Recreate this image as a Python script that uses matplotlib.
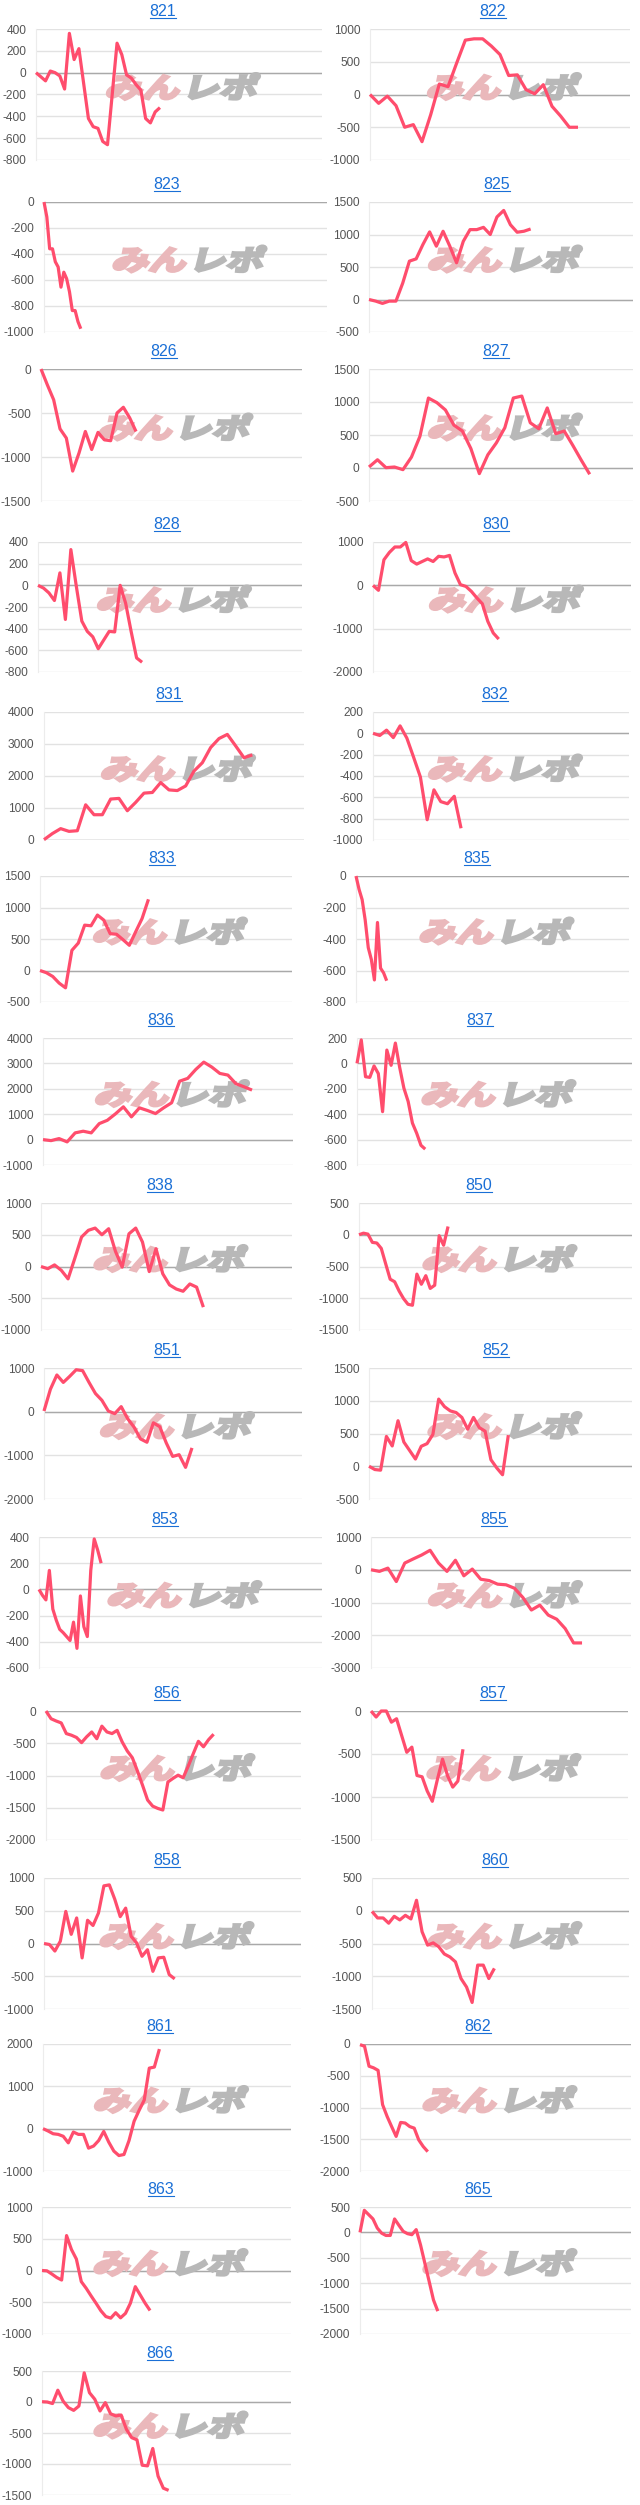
import numpy as np
import matplotlib
matplotlib.use('Agg')
import matplotlib.pyplot as plt
from matplotlib.textpath import TextPath
from matplotlib.patches import PathPatch
from matplotlib.font_manager import FontProperties
from matplotlib.transforms import Affine2D, IdentityTransform
from matplotlib.lines import Line2D

plt.rcParams['axes.unicode_minus'] = False
plt.rcParams['font.family'] = ['Liberation Sans', 'DejaVu Sans']

# ---- data ----
names = ['821', '822', '823', '825', '826', '827', '828', '830', '831', '832',
         '833', '835', '836', '837', '838', '850', '851', '852', '853', '855',
         '856', '857', '858', '860', '861', '862', '863', '865', '866']

s821 = [0, -37, -75, 15, 0, -30, -150, 360, 120, 220, -100, -420, -495, -510, -630, -660,
        -195, 270, 165, -20, -50, -110, -160, -420, -460, -360, -320]
s822 = [0, -135, -25, -170, -500, -460, -720, -310, 160, 120, 480, 830, 850, 850, 740, 610,
        290, 300, 75, 10, 150, -180, -330, -500, -500]
s823 = [0, -115, -360, -360, -460, -500, -655, -540, -590, -690, -835, -835, -920, -975]
s825 = [0, -25, -60, -25, -25, 250, 590, 625, 845, 1040, 820, 1050, 820, 565, 895, 1075,
        1075, 1110, 1000, 1270, 1370, 1150, 1035, 1050, 1085]
s826 = [0, -180, -350, -680, -785, -1160, -955, -710, -915, -720, -805, -815, -500, -435,
        -555, -710]
s827 = [15, 125, 5, 15, -25, 165, 480, 1060, 990, 880, 650, 560, 295, -85, 200, 380, 610,
        1060, 1090, 685, 595, 910, 520, 560, 345, 120, -95]
s828 = [0, -25, -70, -140, 115, -315, 330, -10, -330, -425, -475, -585, -505, -425, -430,
        0, -165, -425, -670, -710]
s830 = [0, -115, 590, 760, 885, 885, 990, 570, 490, 550, 610, 550, 670, 655, 690, 285, 15,
        -25, -140, -290, -425, -830, -1100, -1240]
s831 = [10, 200, 355, 270, 290, 1100, 790, 790, 1280, 1300, 915, 1175, 1465, 1485, 1795,
        1565, 1545, 1690, 2155, 2415, 2890, 3170, 3300, 2940, 2570, 2660]
s832 = [0, -20, 30, -40, 70, -45, -225, -410, -810, -530, -640, -660, -590, -890]
s833 = [0, -35, -95, -200, -275, 320, 435, 720, 710, 880, 800, 585, 575, 490, 400, 615,
        825, 1130]
s835 = [0, -85, -150, -280, -455, -530, -660, -295, -585, -615, -665]
s836 = [0, -40, 40, -90, 265, 330, 265, 630, 760, 1010, 1290, 895, 1250, 1145, 1025, 1250,
        1450, 2300, 2410, 2760, 3050, 2855, 2605, 2540, 2200, 2080, 1950]
s837 = [0, 185, -105, -110, -20, -80, -380, 105, -15, 160, -30, -195, -300, -470, -550,
        -645, -675]
s838 = [0, -35, 25, -60, -195, 130, 465, 570, 605, 500, 595, 240, -10, 515, 605, 385, -80,
        280, -115, -290, -355, -390, -275, -325, -640]
s850 = [0, 25, 10, -120, -130, -215, -460, -700, -740, -885, -1005, -1095, -1110, -620,
        -780, -645, -845, -795, -15, -165, 130]
s851 = [15, 515, 840, 670, 810, 960, 940, 670, 415, 260, 15, -45, 115, -160, -355, -625,
        -700, -255, -345, -715, -1025, -985, -1275, -830]
s852 = [0, -50, -60, 455, 310, 695, 370, 240, 110, 305, 345, 485, 1025, 910, 845, 820, 745,
        565, 745, 590, 535, 100, -25, -130, 475]
s853 = [0, -45, -80, 145, -150, -235, -305, -330, -360, -390, -250, -450, -50, -285, -360,
        145, 385, 300, 200]
s855 = [0, -50, 50, -360, 205, 330, 450, 595, 205, -50, 290, -185, 20, -290, -330, -440,
        -460, -565, -850, -1230, -1080, -1385, -1510, -1795, -2235, -2235]
s856 = [0, -120, -155, -185, -350, -375, -410, -490, -400, -325, -430, -235, -325, -350,
        -300, -480, -620, -725, -930, -1150, -1380, -1475, -1510, -1535, -1100, -1045, -995,
        -1035, -855, -660, -470, -555, -445, -360]
s857 = [0, -70, 0, 0, -130, -90, -285, -480, -420, -750, -765, -930, -1050, -795, -560,
        -755, -885, -815, -445]
s858 = [0, -15, -115, 35, 490, 140, 390, -220, 355, 275, 465, 880, 895, 675, 410, 540, 110,
        10, -195, -95, -425, -220, -210, -475, -540]
s860 = [-10, -110, -110, -190, -85, -140, -70, -125, 160, -320, -525, -490, -550, -660,
        -705, -780, -1035, -1165, -1400, -830, -830, -1035, -880]
s861 = [0, -55, -120, -135, -180, -335, -80, -135, -135, -460, -410, -280, -65, -320, -530,
        -635, -610, -280, 175, 435, 675, 1430, 1455, 1880]
s862 = [-10, -35, -350, -375, -415, -955, -1140, -1300, -1455, -1235, -1245, -1300, -1325,
        -1510, -1615, -1695]
s863 = [0, -5, -55, -110, -150, 550, 330, 180, -175, -280, -400, -515, -635, -725, -750,
        -665, -745, -675, -515, -255, -385, -515, -630]
s865 = [0, 435, 350, 265, 85, -15, -60, -60, 265, 140, 20, -25, -45, 55, -245, -605, -965,
        -1330, -1550]
s866 = [5, 0, -25, 190, 15, -90, -135, -65, 470, 150, 45, -145, -10, -190, -225, -210,
        -440, -575, -610, -1020, -1030, -750, -1195, -1390, -1425]

series = [s821, s822, s823, s825, s826, s827, s828, s830, s831, s832, s833, s835, s836,
          s837, s838, s850, s851, s852, s853, s855, s856, s857, s858, s860, s861, s862,
          s863, s865, s866]

# axis ranges
y_min = [-800, -1000, -1000, -500, -1500, -500, -800, -2000, 0, -1000, -500, -800, -1000,
         -800, -1000, -1500, -2000, -500, -600, -3000, -2000, -1500, -1000, -1500, -1000,
         -2000, -1000, -2000, -1500]
y_max = [400, 1000, 0, 1500, 0, 1500, 400, 1000, 4000, 200, 1500, 0, 4000, 200, 1000, 500,
         1000, 1500, 400, 1000, 0, 0, 1000, 500, 2000, 0, 1000, 500, 500]
y_step = [200, 500, 200, 500, 500, 500, 200, 1000, 1000, 200, 500, 200, 1000, 200, 500, 500,
          1000, 500, 200, 1000, 500, 500, 500, 500, 1000, 500, 500, 500, 500]
x_max = [60, 30, 100, 39.2, 41.2, 31.1, 48.2, 47.2, 31.2, 37.8, 39.5, 89, 31.1, 64.5, 37.1,
         61.3, 40.1, 45.3, 82, 30.8, 50.2, 50.3, 47.2, 46.2, 49, 60, 50.7, 62.7, 47.2]

# ---- layout (pixels) ----
W, H = 640, 2505
row_top = [29, 202, 369, 542, 712, 876, 1038, 1203, 1368, 1537, 1711, 1878, 2044, 2207, 2371]
row_bot = [160, 332, 501, 672, 840, 1002, 1165, 1330, 1499, 1668, 1840, 2009, 2171, 2334, 2495]
boxes = [(36, 322, 163), (370, 630, 493), (44, 327, 167), (369, 633, 497),
         (41, 302, 164), (369, 633, 496), (38, 302, 167), (373, 631, 496),
         (44, 304, 169), (373, 629, 495), (40, 292, 162), (356, 629, 477),
         (43, 293, 161), (357, 632, 480), (41, 292, 160), (359, 632, 479),
         (44, 302, 167), (369, 632, 496), (39, 322, 165), (371, 631, 494),
         (46, 301, 167), (371, 628, 493), (44, 301, 167), (372, 629, 495),
         (43, 291, 160), (360, 631, 478), (42, 291, 161), (360, 631, 478),
         (42, 291, 160)]

LINE = '#ff4d6d'
LINK = '#1a6fd6'

# watermark paths (みん pink, レポ gray)
wm_font = FontProperties(family='Noto Sans CJK JP', weight='bold')
p_pink = TextPath((0, 0), 'みん', size=1, prop=wm_font)
p_gray = TextPath((2.08, 0), 'レポ', size=1, prop=wm_font)
e1, e2 = p_pink.get_extents(), p_gray.get_extents()
wx0, wx1 = min(e1.x0, e2.x0), max(e1.x1, e2.x1)
wy0, wy1 = min(e1.y0, e2.y0), max(e1.y1, e2.y1)

fig = plt.figure(figsize=(W / 100, H / 100), dpi=100)

titles = []
for i, name in enumerate(names):
    row = i // 2
    left, right, tx = boxes[i]
    top, bot = row_top[row], row_bot[row]
    ax = fig.add_axes([left / W, 1 - bot / H, (right - left) / W, (bot - top) / H])

    y = series[i]
    ax.plot(range(len(y)), y, color=LINE, lw=2.3, solid_joinstyle='round',
            solid_capstyle='butt', zorder=3, clip_on=False)
    ax.set_xlim(0, x_max[i])
    ax.set_ylim(y_min[i], y_max[i])
    ax.set_yticks(np.arange(y_min[i], y_max[i] + 1, y_step[i]))
    ax.set_xticks([])
    ax.grid(axis='y', color='#e2e2e2', lw=1)
    ax.axhline(0, color='#a9a9a9', lw=1, zorder=1.6)
    for s in ['top', 'right', 'bottom']:
        ax.spines[s].set_visible(False)
    ax.spines['left'].set_color('#ececec')
    ax.tick_params(axis='y', length=0, pad=7, labelsize=8.6, labelcolor='#555555')

    # watermark, drawn heavy with a stroke of its own colour
    cx = (left + right) / 2 + 4
    cy = H - ((top + bot) / 2 - 8)
    sx = 148 / (wx1 - wx0)
    sy = 26 / (wy1 - wy0)
    tr = (Affine2D().translate(-(wx0 + wx1) / 2, -(wy0 + wy1) / 2)
          .scale(sx, sy).skew_deg(14, 0).translate(cx, cy))
    for p, c in [(p_pink, '#eab8bb'), (p_gray, '#b8b8b8')]:
        patch = PathPatch(tr.transform_path(p), facecolor=c, edgecolor=c, lw=2.2,
                          joinstyle='miter', transform=IdentityTransform(), zorder=2.5)
        ax.add_artist(patch)

    t = fig.text(tx / W, 1 - (top - 13) / H, name, ha='center', va='baseline',
                 fontsize=11.5, color=LINK)
    titles.append(t)

# underline the titles like links
fig.canvas.draw()
r = fig.canvas.get_renderer()
for t in titles:
    bb = t.get_window_extent(r)
    fig.add_artist(Line2D([bb.x0, bb.x1], [bb.y0 + 1.5, bb.y0 + 1.5], color=LINK, lw=0.8,
                          transform=IdentityTransform()))

fig.savefig('out.png', dpi=100)
